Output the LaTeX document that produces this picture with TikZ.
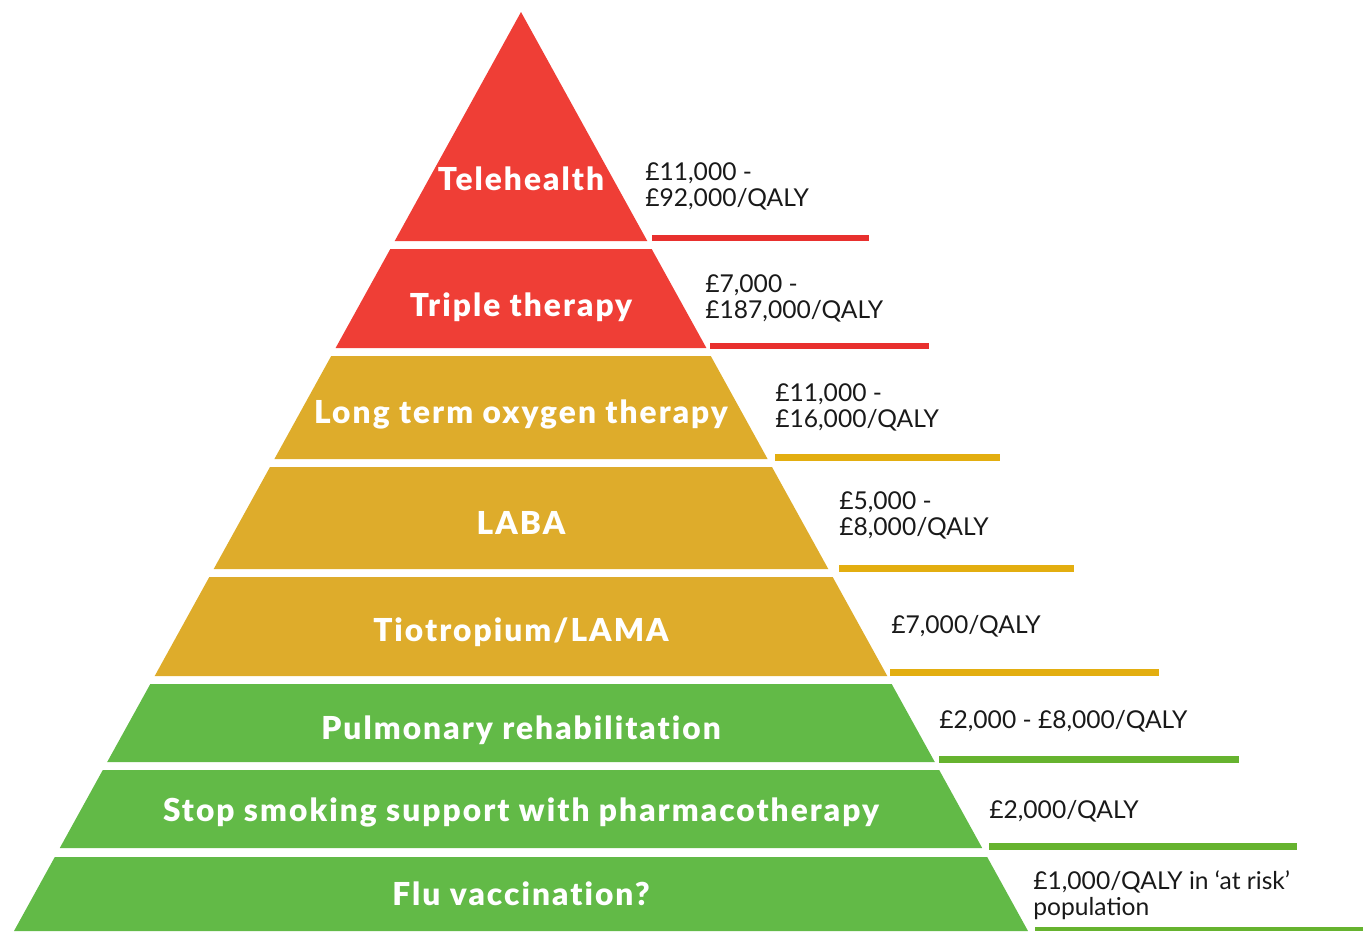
\documentclass[tikz,border=0pt]{standalone}
\usepackage{fontspec}
\setmainfont{Lato}
\newfontfamily\tierfont[LetterSpace=6.5,Ligatures=NoCommon]{Lato Black}
\usetikzlibrary{positioning}

\definecolor{pyrred}{HTML}{EF3E36}
\definecolor{pyrredbar}{HTML}{E8302E}
\definecolor{pyryellow}{HTML}{DEAC2B}
\definecolor{pyryellowbar}{HTML}{E3AE10}
\definecolor{pyrgreen}{HTML}{62BA47}
\definecolor{pyrgreenbar}{HTML}{66B32F}

\begin{document}
\begin{tikzpicture}[x=0.02cm,y=-0.02cm,
  tier/.style={text=white,font=\tierfont\fontsize{18}{20}\selectfont,inner sep=0pt,anchor=base},
  cost/.style={text=black!90,font=\fontsize{14}{14.8}\selectfont,align=left,anchor=base west,inner sep=0pt}]

\useasboundingbox (0,0) rectangle (1363,931);

\fill[pyrred] (521,12) -- (647.3,241) -- (394.7,241) -- cycle;
\fill[pyrred] (390.3,249) -- (651.7,249) -- (706.4,348) -- (335.6,348) -- cycle;
\fill[pyryellow] (331.2,356) -- (710.8,356) -- (767.6,459) -- (274.4,459) -- cycle;
\fill[pyryellow] (270,467) -- (772,467) -- (828.3,569) -- (213.7,569) -- cycle;
\fill[pyryellow] (209.3,577) -- (832.7,577) -- (887.3,676) -- (154.7,676) -- cycle;
\fill[pyrgreen] (150.3,684) -- (891.7,684) -- (934.8,762) -- (107.2,762) -- cycle;
\fill[pyrgreen] (102.8,770) -- (939.2,770) -- (982.2,848) -- (59.8,848) -- cycle;
\fill[pyrgreen] (54.8,857) -- (987.2,857) -- (1028,931) -- (14,931) -- cycle;

\fill[pyrredbar] (652,235) rectangle (869,241);
\fill[pyrredbar] (710,343) rectangle (929,349);
\fill[pyryellowbar] (775,454) rectangle (1000,461);
\fill[pyryellowbar] (839,565) rectangle (1074,572);
\fill[pyryellowbar] (890,669) rectangle (1159,676);
\fill[pyrgreenbar] (939,756) rectangle (1239,763);
\fill[pyrgreenbar] (989,843) rectangle (1297,850);
\fill[pyrgreenbar] (1035,927) rectangle (1363,931);

\node[tier] (tele) at (521,190) {Telehealth};
\node[tier] (triple) at (521,316) {Triple therapy};
\node[tier] (ltot) at (521,423) {Long term oxygen therapy};
\node[tier] (laba) at (521,534) {LABA};
\node[tier] (tio) at (521,641) {Tiotropium/LAMA};
\node[tier] (pulm) at (521,739) {Pulmonary rehabilitation};
\node[tier] (stop) at (521,821) {Stop smoking support with pharmacotherapy};
\node[tier] (flu) at (521,905) {Flu vaccination?};

% second-line baselines for the two-line costs
\node[cost] (teleCost) at (645,206) {£11,000 -\\£92,000/QALY};
\node[cost] (tripleCost) at (705,318) {£7,000 -\\£187,000/QALY};
\node[cost] (ltotCost) at (775,427) {£11,000 -\\£16,000/QALY};
\node[cost] (labaCost) at (839,535) {£5,000 -\\£8,000/QALY};
\node[cost] (tioCost) at (891,633) {£7,000/QALY};
\node[cost] (pulmCost) at (939,728) {£2,000 - £8,000/QALY};
\node[cost] (stopCost) at (989,818) {£2,000/QALY};
\node[cost] (fluCost) at (1033,915) {£1,000/QALY in ‘at risk’\\population};

\end{tikzpicture}
\end{document}
